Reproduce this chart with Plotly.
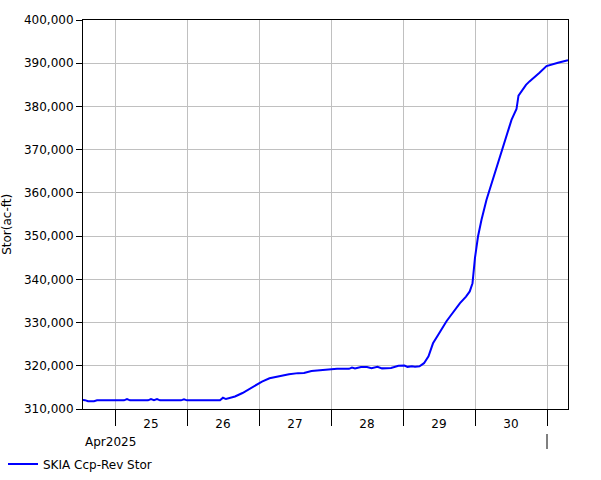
import plotly.graph_objects as go

times = [
    "2025-04-24 13:00", "2025-04-24 14:00", "2025-04-24 15:00", "2025-04-24 17:00", "2025-04-24 18:00",
    "2025-04-24 22:00", "2025-04-25 03:00", "2025-04-25 04:00", "2025-04-25 05:00", "2025-04-25 11:00",
    "2025-04-25 12:00", "2025-04-25 13:00", "2025-04-25 14:00", "2025-04-25 15:00", "2025-04-25 22:00",
    "2025-04-25 23:00", "2025-04-26 00:00", "2025-04-26 11:00", "2025-04-26 12:00", "2025-04-26 13:00",
    "2025-04-26 15:00", "2025-04-26 16:00", "2025-04-26 18:30", "2025-04-26 21:00", "2025-04-26 23:00",
    "2025-04-27 01:00", "2025-04-27 03:30", "2025-04-27 07:00", "2025-04-27 10:00", "2025-04-27 13:00",
    "2025-04-27 15:00", "2025-04-27 17:30", "2025-04-27 21:00", "2025-04-28 00:00", "2025-04-28 02:00",
    "2025-04-28 06:00", "2025-04-28 07:00", "2025-04-28 08:00", "2025-04-28 10:00", "2025-04-28 12:00",
    "2025-04-28 13:30", "2025-04-28 15:30", "2025-04-28 17:00", "2025-04-28 20:00", "2025-04-28 22:30",
    "2025-04-29 00:30", "2025-04-29 01:30", "2025-04-29 03:00", "2025-04-29 04:00", "2025-04-29 05:30",
    "2025-04-29 07:00", "2025-04-29 08:30", "2025-04-29 10:00", "2025-04-29 11:45", "2025-04-29 13:20",
    "2025-04-29 14:30", "2025-04-29 15:40", "2025-04-29 16:40", "2025-04-29 19:00", "2025-04-29 21:00",
    "2025-04-29 22:15", "2025-04-29 23:10", "2025-04-30 00:00", "2025-04-30 01:00", "2025-04-30 02:10",
    "2025-04-30 03:50", "2025-04-30 05:30", "2025-04-30 07:40", "2025-04-30 09:50", "2025-04-30 12:10",
    "2025-04-30 13:50", "2025-04-30 14:30", "2025-04-30 17:00", "2025-04-30 18:10", "2025-04-30 21:30",
    "2025-04-30 23:50", "2025-05-01 03:40", "2025-05-01 06:30", "2025-05-01 07:00",
]
storage = [
    312100, 312050, 311800, 311800, 312000,
    312000, 312000, 312300, 312000, 312000,
    312300, 312050, 312300, 312000, 312000,
    312250, 312000, 312000, 312600, 312300,
    312700, 312900, 313700, 314700, 315500,
    316350, 317100, 317700, 318050, 318300,
    318350, 318800, 319000, 319050, 319300,
    319300, 319600, 319400, 319700, 319700,
    319450, 319750, 319400, 319500, 320000,
    320050, 319750, 319900, 319800, 319900,
    320600, 322200, 325200, 327200, 329100,
    330300, 331400, 332400, 334500, 336000,
    337200, 339100, 345000, 349900, 353800,
    358400, 362200, 366900, 372000, 376900,
    379400, 382500, 385000, 385800, 387800,
    389350, 390100, 390600, 390700,
]
series_name = "SKIA Ccp-Rev Stor"
y_title = "Stor(ac-ft)"
month_label = "Apr2025"

FONT = "Verdana, DejaVu Sans, sans-serif"

fig = go.Figure()
fig.add_trace(go.Scatter(
    x=times, y=storage, mode="lines", name=series_name,
    line=dict(color="#0000ff", width=2),
))

fig.update_layout(
    width=601, height=480,
    margin=dict(l=83, r=33, t=20, b=71, autoexpand=False),
    paper_bgcolor="white", plot_bgcolor="white",
    font=dict(family=FONT, size=12, color="black"),
    showlegend=True,
    legend=dict(orientation="h", xref="container", yref="container",
                x=0.005, y=0.0333, xanchor="left", yanchor="middle",
                font=dict(family=FONT, size=12, color="black"), bgcolor="rgba(0,0,0,0)"),
    xaxis=dict(
        type="date", automargin=False,
        range=["2025-04-24 13:20", "2025-05-01 07:00"],
        tick0="2025-04-25", dtick=86400000,
        tickformat="%d", ticklabelmode="period",
        ticks="outside", ticklen=16, tickcolor="black", tickwidth=1,
        ticklabelstandoff=-12,
        showgrid=True, gridcolor="#c0c0c0", gridwidth=1,
        showline=True, linecolor="black", linewidth=1, mirror=True,
        zeroline=False,
        tickfont=dict(family=FONT, size=12, color="black"),
    ),
    yaxis=dict(
        automargin=False,
        range=[310000, 400000], dtick=10000, tick0=310000,
        tickformat=",d",
        ticks="outside", ticklen=6, tickcolor="black", tickwidth=1,
        showgrid=True, gridcolor="#c0c0c0", gridwidth=1,
        showline=True, linecolor="black", linewidth=1, mirror=True,
        zeroline=False,
        tickfont=dict(family=FONT, size=12, color="black"),
    ),
    annotations=[
        dict(text=y_title, xref="paper", yref="paper", x=-0.157, y=0.4756,
             xanchor="center", yanchor="middle", textangle=-90, showarrow=False,
             font=dict(family=FONT, size=12, color="black")),
        dict(text=month_label, xref="paper", yref="paper", x=0, y=-0.0836,
             xanchor="left", yanchor="middle", showarrow=False,
             font=dict(family=FONT, size=12, color="black")),
    ],
    shapes=[
        dict(type="line", xref="x", yref="paper", x0="2025-05-01", x1="2025-05-01",
             y0=-0.0643, y1=-0.1028, line=dict(color="black", width=1)),
    ],
)

fig.write_html("out.html", config={"displayModeBar": False},
               post_script="document.body.style.margin='0px';")
